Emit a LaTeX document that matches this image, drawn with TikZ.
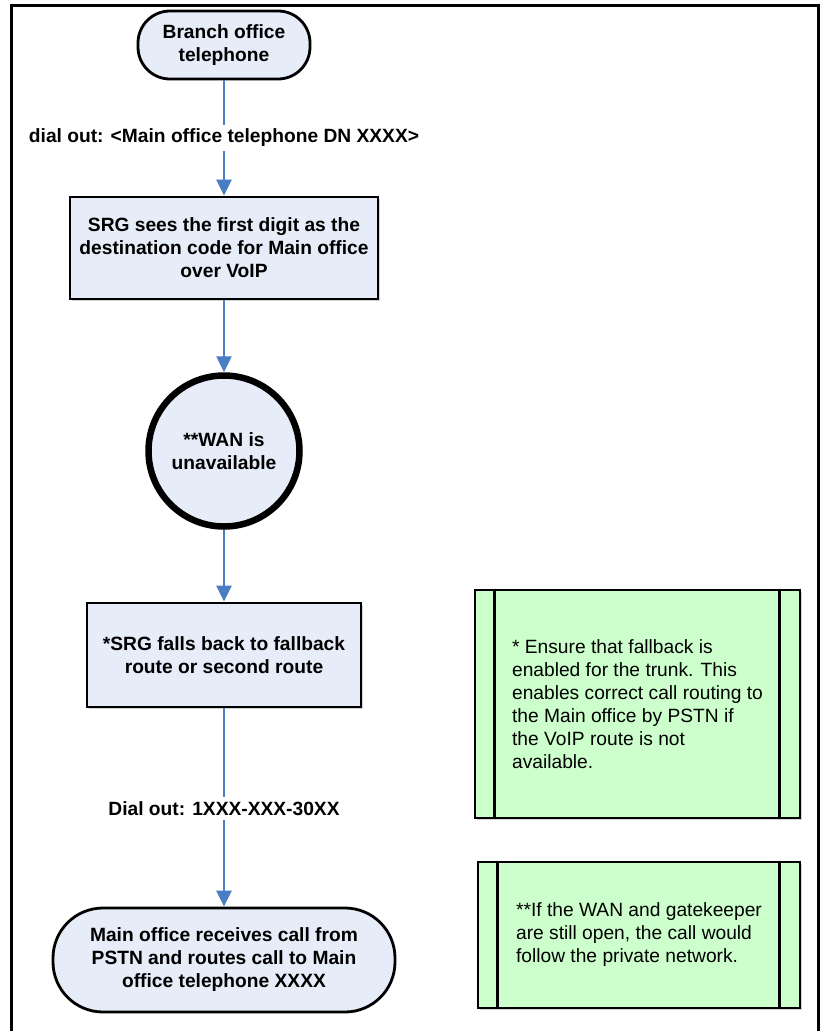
\documentclass[tikz,border=0pt]{standalone}
\usepackage{fontspec}
\setmainfont{Liberation Sans}
\usetikzlibrary{arrows.meta,shadows}

\definecolor{stepfill}{RGB}{230,236,248}
\definecolor{notefill}{RGB}{204,255,204}
\definecolor{flowblue}{RGB}{74,126,196}

\begin{document}
\begin{tikzpicture}[
  x=1pt, y=-1pt,
  >={Triangle[length=16pt, width=15pt]},
  font=\fontsize{19.2}{23}\selectfont\bfseries,
  every node/.style={inner sep=0pt},
  terminal/.style={rectangle, draw, line width=2.8pt, fill=stepfill, align=center},
  process/.style={rectangle, draw, line width=2.8pt, fill=stepfill, align=center,
                  drop shadow={opacity=0.35, shadow xshift=1.5pt, shadow yshift=-1.5pt}},
  event/.style={circle, draw, line width=6.5pt, fill=stepfill, align=center,
                minimum size=151pt},
  note/.style={rectangle, draw, line width=2.8pt, fill=notefill, align=left,
               font=\fontsize{19.2}{23}\selectfont,
               drop shadow={opacity=0.35, shadow xshift=1.5pt, shadow yshift=-1.5pt}},
  flow/.style={->, line width=2.5pt, flowblue},
  flowlab/.style={fill=white, text=black, inner sep=4pt}
]
\useasboundingbox (0,0) rectangle (823,1031);

% ---------- Frame ----------
\draw[line width=3pt] (11,1031) -- (11,5.5) -- (818.5,5.5) -- (818.5,1031);

% ---------- Flow ----------
\node[terminal, rounded corners=32pt, minimum width=172pt, minimum height=68pt]
  (phone) at (224,45) {Branch office\\telephone};
\node[process, minimum width=308pt, minimum height=102pt]
  (srg) at (224,248) {SRG sees the first digit as the\\destination code for Main office\\over VoIP};
\node[event] (wan) at (224,451) {**WAN is\\unavailable};
\node[process, minimum width=274pt, minimum height=104pt]
  (fallback) at (224,655) {*SRG falls back to fallback\\route or second route};
\node[terminal, rounded corners=50pt, minimum width=342pt, minimum height=104pt]
  (mainoffice) at (224,960) {Main office receives call from\\PSTN and routes call to Main\\office telephone XXXX};

% ---------- Connectors ----------
\draw[flow] (phone) -- node[flowlab] {dial out: <Main office telephone DN XXXX>} (srg);
\draw[flow] (srg) -- (wan);
\draw[flow] (wan) -- (fallback);
\draw[flow] (fallback) -- node[flowlab, pos=0.505] {Dial out: 1XXX-XXX-30XX} (mainoffice);

% ---------- Notes ----------
\node[note, minimum width=325pt, minimum height=228pt] (note1) at (637.5,704)
  {* Ensure that fallback is\\enabled for the trunk. This\\enables correct call routing to\\the Main office by PSTN if\\the VoIP route is not\\available.};
\node[note, minimum width=322pt, minimum height=146pt] (note2) at (639,935)
  {**If the WAN and gatekeeper\\are still open, the call would\\follow the private network.};
\foreach \n in {note1,note2} {
  \draw[line width=2.8pt] ([xshift=21pt]\n.north west) -- ([xshift=21pt]\n.south west);
  \draw[line width=2.8pt] ([xshift=-22pt]\n.north east) -- ([xshift=-22pt]\n.south east);
}

\end{tikzpicture}
\end{document}
